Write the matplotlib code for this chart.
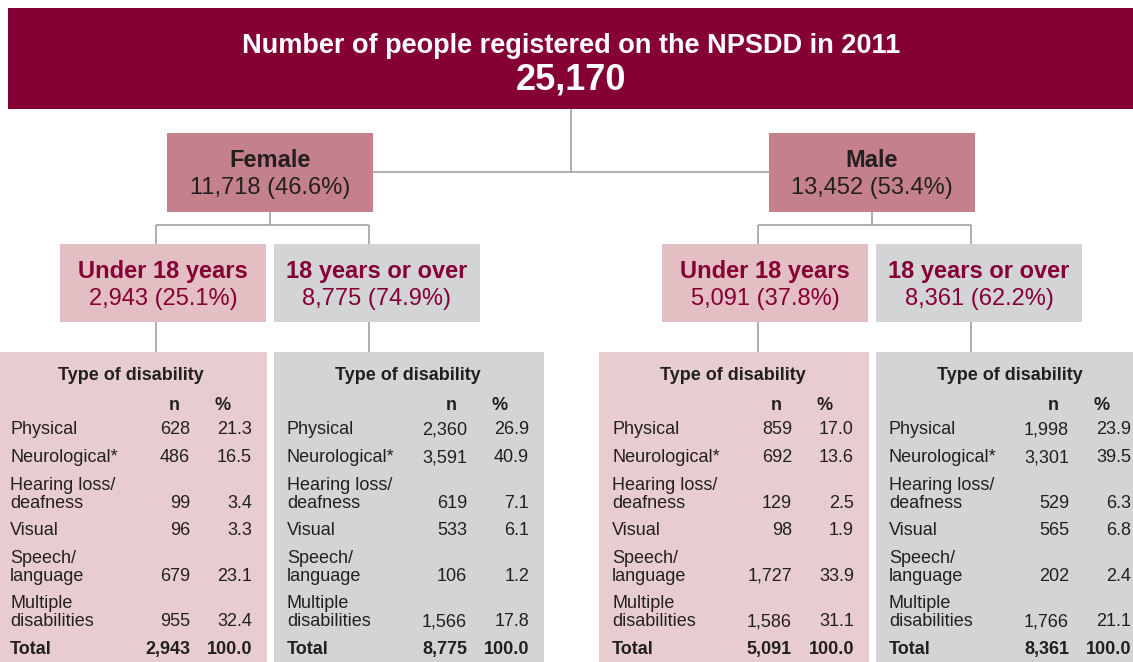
import matplotlib.pyplot as plt
from matplotlib.patches import Rectangle

plt.rcParams['font.family'] = ['Liberation Sans', 'DejaVu Sans']

# ---- data ----
title = 'Number of people registered on the NPSDD in 2011'
total = 25170
sexes = ['Female', 'Male']
sex_n = [11718, 13452]
sex_pct = [46.6, 53.4]
age_groups = ['Under 18 years', '18 years or over']
age_n = [[2943, 8775], [5091, 8361]]
age_pct = [[25.1, 74.9], [37.8, 62.2]]
disability_types = ['Physical', 'Neurological*', 'Hearing loss/\ndeafness',
                    'Visual', 'Speech/\nlanguage', 'Multiple\ndisabilities']
# one list per table: female <18, female 18+, male <18, male 18+
dis_n = [[628, 486, 99, 96, 679, 955],
         [2360, 3591, 619, 533, 106, 1566],
         [859, 692, 129, 98, 1727, 1586],
         [1998, 3301, 529, 565, 202, 1766]]
dis_pct = [[21.3, 16.5, 3.4, 3.3, 23.1, 32.4],
           [26.9, 40.9, 7.1, 6.1, 1.2, 17.8],
           [17.0, 13.6, 2.5, 1.9, 33.9, 31.1],
           [23.9, 39.5, 6.3, 6.8, 2.4, 21.1]]

# ---- colours ----
maroon = '#850033'
sex_col = '#C4808B'
young_box = '#E3BEC3'
young_tab = '#E8CDD0'
grey = '#D3D4D6'
line_col = '#9A9A9A'
dark = '#231F20'

W, H = 1133, 662
fig = plt.figure(figsize=(W / 100, H / 100), dpi=100)
ax = fig.add_axes([0, 0, 1, 1])
ax.set_xlim(0, W)
ax.set_ylim(H, 0)
ax.axis('off')


def box(x, y, w, h, color):
    ax.add_patch(Rectangle((x, y), w, h, facecolor=color, edgecolor='none', zorder=1))


def line(xs, ys):
    ax.plot(xs, ys, color=line_col, lw=1.1, zorder=0, solid_capstyle='butt')


def txt(x, y, s, size, color=dark, bold=False, ha='center'):
    # y is the visual middle of the capitals; place the baseline below it
    base = y + 0.716 * size * 100 / 72 / 2
    ax.text(x, base, s, ha=ha, va='baseline', color=color, fontsize=size,
            fontweight='bold' if bold else 'normal')


# top banner
box(8, 8, W, 101, maroon)
txt(571, 43, title, 19.5, 'white', True)
txt(571, 77, f'{total:,}', 26, 'white', True)

sex_cx = [270, 872]
line([571, 571], [109, 172])
line([sex_cx[0] + 103, sex_cx[1] - 103], [172, 172])

for i, sex in enumerate(sexes):
    cx = sex_cx[i]
    box(cx - 103, 133, 206, 79, sex_col)
    txt(cx, 159, sex, 17, dark, True)
    txt(cx, 186, f'{sex_n[i]:,} ({sex_pct[i]:.1f}%)', 17, dark)

    # connectors to age boxes
    lx, rx = cx - 114, cx + 99
    line([cx, cx], [212, 225])
    line([lx, rx], [225, 225])
    line([lx, lx], [225, 352])
    line([rx, rx], [225, 352])

    for j, grp in enumerate(age_groups):
        bx = cx - 210 if j == 0 else cx + 4
        box(bx, 244, 206, 78, young_box if j == 0 else grey)
        txt(bx + 103, 270, grp, 17, maroon, True)
        txt(bx + 103, 297, f'{age_n[i][j]:,} ({age_pct[i][j]:.1f}%)', 17, maroon)

        # disability table
        k = i * 2 + j
        tx = cx - 273 if j == 0 else cx + 4
        box(tx, 352, 270, H - 352 + 5, young_tab if j == 0 else grey)
        txt(tx + 134, 374, 'Type of disability', 13, dark, True)
        txt(tx + 177, 404, 'n', 13, dark, True)
        txt(tx + 226, 404, '%', 13, dark, True)
        y = 428
        for r, lab in enumerate(disability_types):
            parts = lab.split('\n')
            for p in parts[:-1]:
                txt(tx + 13, y, p, 13, ha='left')
                y += 18
            txt(tx + 13, y, parts[-1], 13, ha='left')
            txt(tx + 193, y, f'{dis_n[k][r]:,}', 13, ha='right')
            txt(tx + 255, y, f'{dis_pct[k][r]:.1f}', 13, ha='right')
            y += 27.6
        txt(tx + 13, y, 'Total', 13, dark, True, 'left')
        txt(tx + 193, y, f'{sum(dis_n[k]):,}', 13, dark, True, 'right')
        txt(tx + 255, y, f'{sum(dis_pct[k]):.1f}', 13, dark, True, 'right')

fig.savefig('out.png', dpi=100)
